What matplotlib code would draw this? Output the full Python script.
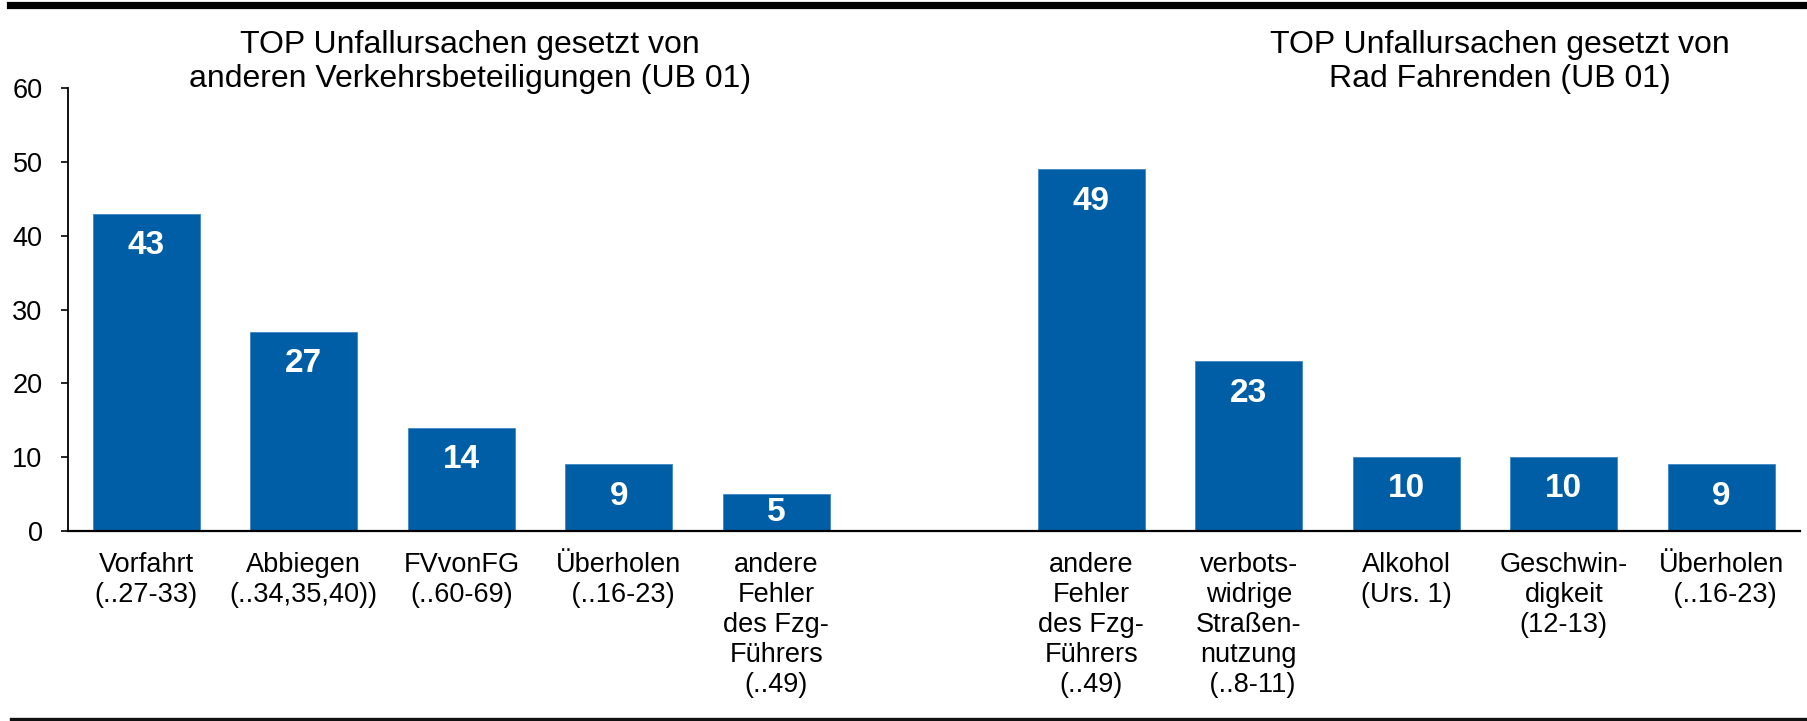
import matplotlib
matplotlib.use("Agg")
import matplotlib.pyplot as plt
from matplotlib.lines import Line2D

plt.rcParams['font.family'] = ['Liberation Sans', 'DejaVu Sans']

# ---- data ----
group1_labels = ["Vorfahrt\n(..27-33)", "Abbiegen\n(..34,35,40))", "FVvonFG\n(..60-69)",
                 "Überholen\n (..16-23)", "andere\nFehler\ndes Fzg-\nFührers\n(..49)"]
group1_values = [43, 27, 14, 9, 5]
group2_labels = ["andere\nFehler\ndes Fzg-\nFührers\n(..49)", "verbots-\nwidrige\nStraßen-\nnutzung\n (..8-11)",
                 "Alkohol\n(Urs. 1)", "Geschwin-\ndigkeit\n(12-13)", "Überholen\n (..16-23)"]
group2_values = [49, 23, 10, 10, 9]
title1 = "TOP Unfallursachen gesetzt von\nanderen Verkehrsbeteiligungen (UB 01)"
title2 = "TOP Unfallursachen gesetzt von\nRad Fahrenden (UB 01)"
yticks = [0, 10, 20, 30, 40, 50, 60]

labels = group1_labels + [""] + group2_labels
values = group1_values + [None] + group2_values

bar_color = "#005EA6"

fig = plt.figure(figsize=(18.08, 7.21), dpi=100)
ax = fig.add_axes([0.0374, 0.2639, 0.9582, 0.6136])

xs = [i for i, v in enumerate(values) if v is not None]
vs = [v for v in values if v is not None]
ax.bar(xs, vs, width=0.68, color=bar_color, edgecolor="#3F86C4", linewidth=0.6, zorder=2)

ax.set_xlim(-0.5, len(values) - 0.5)
ax.set_ylim(0, 60)
ax.set_yticks(yticks)
ax.set_xticks(range(len(values)))
ax.set_xticklabels(labels, fontsize=19.5, linespacing=1.2)
ax.tick_params(axis='x', length=0, pad=15)
ax.tick_params(axis='y', length=5, width=1.2, pad=13, labelsize=19.5, direction='out')

for s in ['top', 'right']:
    ax.spines[s].set_visible(False)
ax.spines['left'].set_linewidth(1.3)
ax.spines['bottom'].set_linewidth(1.6)

# value labels: inside end (~32 px below top), centered if bar too short
px_per_unit = ax.bbox.height / 60.0
for x, v in zip(xs, vs):
    off = 32.0 / px_per_unit
    y = max(v - off, v / 2.0)
    ax.text(x, y, str(v), ha='center', va='center', color='white',
            fontsize=24, fontweight='bold', zorder=3)

# titles
fig.text(0.26, 0.958, title1, ha='center', va='top', fontsize=23, linespacing=1.16)
fig.text(0.8296, 0.958, title2, ha='center', va='top', fontsize=23, linespacing=1.16)

# decorative rules
fig.add_artist(Line2D([10 / 1808, 1.0], [1 - 4.5 / 721, 1 - 4.5 / 721],
                      transform=fig.transFigure, color='black', linewidth=5.2))
fig.add_artist(Line2D([11 / 1808, 1.0], [2.5 / 721, 2.5 / 721],
                      transform=fig.transFigure, color='#111111', linewidth=2.4))

fig.savefig("out.png", dpi=100)
